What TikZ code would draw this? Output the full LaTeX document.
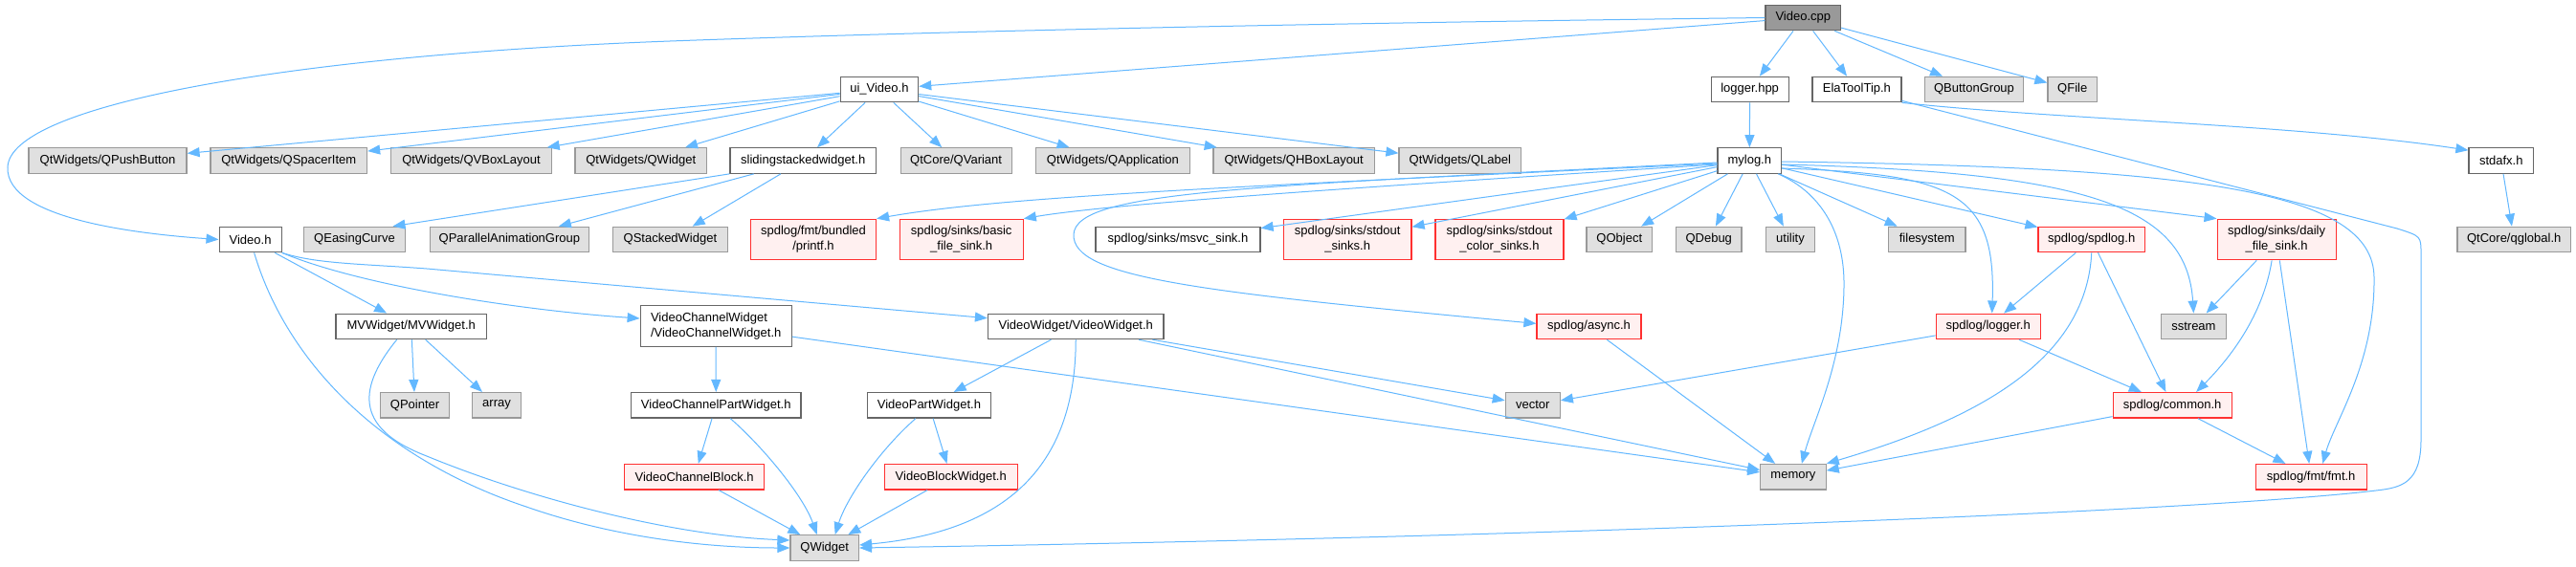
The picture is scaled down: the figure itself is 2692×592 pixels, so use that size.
\documentclass[tikz,border=0pt]{standalone}
\usepackage{fontspec}
\setmainfont{Liberation Sans}
\usetikzlibrary{arrows.meta}
\definecolor{edgec}{HTML}{63B8FF}
\definecolor{docb}{HTML}{666666}
\definecolor{extb}{HTML}{999999}
\definecolor{extf}{HTML}{E0E0E0}
\definecolor{truncf}{HTML}{FFF0F0}
\definecolor{truncb}{HTML}{FF3030}
\definecolor{rootf}{HTML}{999999}
\newcommand{\gnode}[5]{\node[#1, minimum width=#3pt] (#2) at (#4) {#5};}
\begin{document}
\begin{tikzpicture}[x=1pt,y=-1pt,
  nbox/.style={draw, line width=1.2pt, inner sep=0pt, minimum height=26.5pt,
    font=\fontsize{13}{16}\selectfont, text=black, anchor=center},
  fdoc/.style={nbox, draw=docb, fill=white},
  fext/.style={nbox, draw=extb, fill=extf},
  ftrunc/.style={nbox, draw=truncb, fill=truncf},
  froot/.style={nbox, draw=docb, fill=rootf},
  two/.style={minimum height=42.5pt, align=center},
  dep/.style={draw=edgec, line width=1pt, -{Triangle[length=13pt,width=10pt]}}]
\fill[white] (0,0) rectangle (2692,592);
\useasboundingbox (0,0) rectangle (2692,592);
% row 0/1
\gnode{froot}{vcpp}{78.5}{1884.3,18.5}{Video.cpp}
\gnode{fdoc}{uivh}{81.5}{918.9,93.5}{ui\_Video.h}
\gnode{fdoc}{logger}{81}{1828.6,93.5}{logger.hpp}
\gnode{fdoc}{ela}{93}{1940.4,93.5}{ElaToolTip.h}
\gnode{fext}{qbg}{103.5}{2063,93.5}{QButtonGroup}
\gnode{fext}{qfile}{51.5}{2165.7,93.5}{QFile}
% row 2
\gnode{fext}{qpb}{165}{112.5,168}{QtWidgets/QPushButton}
\gnode{fext}{qsi}{163.5}{301.8,168}{QtWidgets/QSpacerItem}
\gnode{fext}{qvbl}{168}{492.5,168}{QtWidgets/QVBoxLayout}
\gnode{fext}{qtqw}{137.5}{669.75,168}{QtWidgets/QWidget}
\gnode{fdoc}{ssw}{152.5}{839.25,168}{slidingstackedwidget.h}
\gnode{fext}{qvar}{116}{999.1,168}{QtCore/QVariant}
\gnode{fext}{qapp}{161}{1162.9,168}{QtWidgets/QApplication}
\gnode{fext}{qhbl}{168.5}{1352.2,168}{QtWidgets/QHBoxLayout}
\gnode{fext}{qlabel}{127.5}{1525.8,168}{QtWidgets/QLabel}
\gnode{fdoc}{mylog}{66.5}{1828.3,168}{mylog.h}
\gnode{fdoc}{stdafx}{67.5}{2613.75,168}{stdafx.h}
% row 3
\gnode{fdoc}{vh}{65}{261.6,250.5}{Video.h}
\gnode{fext}{qec}{106}{370.5,250.5}{QEasingCurve}
\gnode{fext}{qpag}{166.5}{532.4,250.5}{QParallelAnimationGroup}
\gnode{fext}{qsw}{119.5}{700.4,250.5}{QStackedWidget}
\gnode{ftrunc,two}{printf}{131}{850,250.5}{spdlog/fmt/bundled\\/printf.h}
\gnode{ftrunc,two}{bfs}{129}{1004.7,250.5}{spdlog/sinks/basic\\\_file\_sink.h}
\gnode{fdoc}{msvc}{172}{1231,250.5}{spdlog/sinks/msvc\_sink.h}
\gnode{ftrunc,two}{sos}{133.5}{1408.2,250.5}{spdlog/sinks/stdout\\\_sinks.h}
\gnode{ftrunc,two}{socs}{134}{1567,250.5}{spdlog/sinks/stdout\\\_color\_sinks.h}
\gnode{fext}{qobj}{68.5}{1692.3,250.5}{QObject}
\gnode{fext}{qdbg}{68.5}{1785.75,250.5}{QDebug}
\gnode{fext}{util}{51.5}{1871,250.5}{utility}
\gnode{fext}{fsys}{80.5}{2013.75,250.5}{filesystem}
\gnode{ftrunc}{spd}{111.5}{2185.75,250.5}{spdlog/spdlog.h}
\gnode{ftrunc,two}{dfs}{124}{2379.1,250.5}{spdlog/sinks/daily\\\_file\_sink.h}
\gnode{fext}{qglobal}{118.5}{2627.2,250.5}{QtCore/qglobal.h}
% row 4
\gnode{fdoc}{mvw}{157.5}{429.7,341.4}{MVWidget/MVWidget.h}
\node[fdoc, minimum width=158pt, minimum height=42.5pt, align=left] (vcw) at (748.2,341) {VideoChannelWidget\\/VideoChannelWidget.h};
\gnode{fdoc}{vw}{183.5}{1124.25,341.4}{VideoWidget/VideoWidget.h}
\gnode{ftrunc}{async}{109}{1660.5,341.4}{spdlog/async.h}
\gnode{ftrunc}{logh}{109}{2077.7,341.4}{spdlog/logger.h}
\gnode{fext}{sstream}{68}{2292.4,341.4}{sstream}
% row 5
\gnode{fext}{qptr}{71.5}{433.6,423.8}{QPointer}
\gnode{fext}{arr}{50.5}{519,423.8}{array}
\gnode{fdoc}{vcpw}{177.5}{748.25,423.8}{VideoChannelPartWidget.h}
\gnode{fdoc}{vpw}{129}{970.9,423.8}{VideoPartWidget.h}
\gnode{fext}{vec}{57}{1601.8,423.8}{vector}
\gnode{ftrunc}{common}{124}{2270.1,423.8}{spdlog/common.h}
% row 6
\gnode{ftrunc}{vcb}{146}{725.6,498.7}{VideoChannelBlock.h}
\gnode{ftrunc}{vbw}{139}{993.75,498.7}{VideoBlockWidget.h}
\gnode{fext}{mem}{68.5}{1873.9,498.7}{memory}
\gnode{ftrunc}{fmt}{116}{2415.2,498.7}{spdlog/fmt/fmt.h}
% row 7
\gnode{fext}{qw}{71.5}{861.7,573}{QWidget}
% ---- edges
% Video.cpp
\draw[dep] (vcpp) -- (uivh);
\draw[dep] (vcpp.west) .. controls (1400,24) and (1000,32) .. (700,43) .. controls (300,58) and (10,110) .. (8,175) .. controls (6,230) and (150,245) .. (vh.west);
\draw[dep] (vcpp) -- (logger);
\draw[dep] (vcpp) -- (ela);
\draw[dep] (vcpp) -- (qbg);
\draw[dep] (vcpp) -- (qfile);
% ui_Video.h
\foreach \t in {qpb,qsi,qvbl,qtqw,ssw,qvar,qapp,qhbl,qlabel} \draw[dep] (uivh) -- (\t);
% slidingstackedwidget.h
\draw[dep] (ssw.south west) -- ([xshift=40pt]qec.north);
\draw[dep] (ssw) -- (qpag);
\draw[dep] (ssw) -- (qsw);
% logger.hpp / ElaToolTip.h / stdafx.h
\draw[dep] (logger) -- (mylog);
\draw[dep] (ela.south east) .. controls (2150,125) and (2400,130) .. ([yshift=-3pt]stdafx.north west);
\draw[dep] ([yshift=2pt]ela.south east) -- (2505,239) .. controls (2530,247) .. (2530,265) -- (2530,460) .. controls (2530,505) and (2510,510) .. (2483,513) .. controls (2300,535) and (1600,562) .. (qw.east);
\draw[dep] (stdafx) -- (qglobal);
% mylog.h
\draw[dep] ([yshift=-3pt]mylog.west) .. controls (1300,195) and (1050,205) .. (printf.north east);
\draw[dep] ([yshift=-4pt]mylog.west) .. controls (1350,200) and (1150,215) .. (bfs.north east);
\draw[dep] ([yshift=-2pt]mylog.west) .. controls (1300,195) and (1125,200) .. (1122,245) .. controls (1120,290) and (1250,305) .. ([yshift=3pt]async.west);
\draw[dep] (mylog) -- (msvc);
\draw[dep] (mylog) -- (sos);
\draw[dep] (mylog) -- (socs);
\draw[dep] (mylog) -- (qobj);
\draw[dep] (mylog) -- (qdbg);
\draw[dep] (mylog) -- (util);
\draw[dep] (mylog) -- (fsys);
\draw[dep] (mylog) -- (spd);
\draw[dep] (mylog) -- (dfs.north west);
\draw[dep] ([yshift=-4pt]mylog.east) .. controls (2180,180) and (2285,215) .. (sstream.north);
\draw[dep] ([yshift=-8pt]mylog.east) .. controls (2040,182) and (2086,200) .. ([xshift=4pt]logh.north);
\draw[dep] ([yshift=-1pt]mylog.east) .. controls (2300,175) and (2480,200) .. (2481,290) .. controls (2482,380) and (2440,440) .. ([xshift=12pt]fmt.north);
\draw[dep] ([xshift=-4pt]mylog.south east) .. controls (1900,200) and (1928,240) .. (1927,300) .. controls (1926,380) and (1895,440) .. ([xshift=9pt]mem.north);
% spdlog/spdlog.h
\draw[dep] (spd) -- (logh);
\draw[dep] (spd) -- (common);
\draw[dep] (spd.south) .. controls (2180,380) and (2060,440) .. (mem.north east);
% daily_file_sink
\draw[dep] (dfs) -- (sstream);
\draw[dep] ([xshift=-5pt]dfs.south) .. controls (2365,330) and (2330,375) .. ([xshift=25pt]common.north);
\draw[dep] (dfs) -- (fmt);
% logger.h / common.h / async.h
\draw[dep] (logh) -- (vec);
\draw[dep] (logh) -- (common);
\draw[dep] (common) -- (mem);
\draw[dep] (common) -- (fmt);
\draw[dep] (async) -- (mem);
% Video.h
\draw[dep] (vh) -- (mvw);
\draw[dep] (vh.south east) .. controls (380,300) and (550,325) .. ([yshift=8pt]vcw.west);
\draw[dep] (vh.south east) .. controls (330,276) and (380,276) .. (446,281) -- ([yshift=8.7pt]vw.west);
\draw[dep] ([xshift=4pt]vh.south) .. controls (300,380) and (400,480) .. (550,530) .. controls (650,565) and (750,573) .. (qw.west);
% MVWidget.h
\draw[dep] (mvw) -- (qptr);
\draw[dep] (mvw) -- (arr);
\draw[dep] ([xshift=-15pt]mvw.south) .. controls (370,410) and (375,450) .. (446,477) .. controls (550,520) and (700,560) .. ([yshift=8pt]qw.west);
% VideoChannelWidget.h
\draw[dep] (vcw) -- (vcpw);
\draw[dep] (vcw) -- (mem);
\draw[dep] (vcpw) -- (vcb);
\draw[dep] ([xshift=15pt]vcpw.south) .. controls (800,470) and (840,520) .. ([xshift=-8pt]qw.north);
\draw[dep] (vcb) -- (qw);
% VideoWidget.h
\draw[dep] (vw) -- (vpw);
\draw[dep] (vw.south) .. controls (1124,480) and (1060,555) .. ([yshift=3pt]qw.east);
\draw[dep] (vw) -- (vec);
\draw[dep] (vw) -- (mem);
\draw[dep] ([xshift=-14pt]vpw.south) .. controls (920,470) and (885,520) .. ([xshift=11pt]qw.north);
\draw[dep] (vpw) -- (vbw);
\draw[dep] (vbw) -- (qw);
\end{tikzpicture}
\end{document}
